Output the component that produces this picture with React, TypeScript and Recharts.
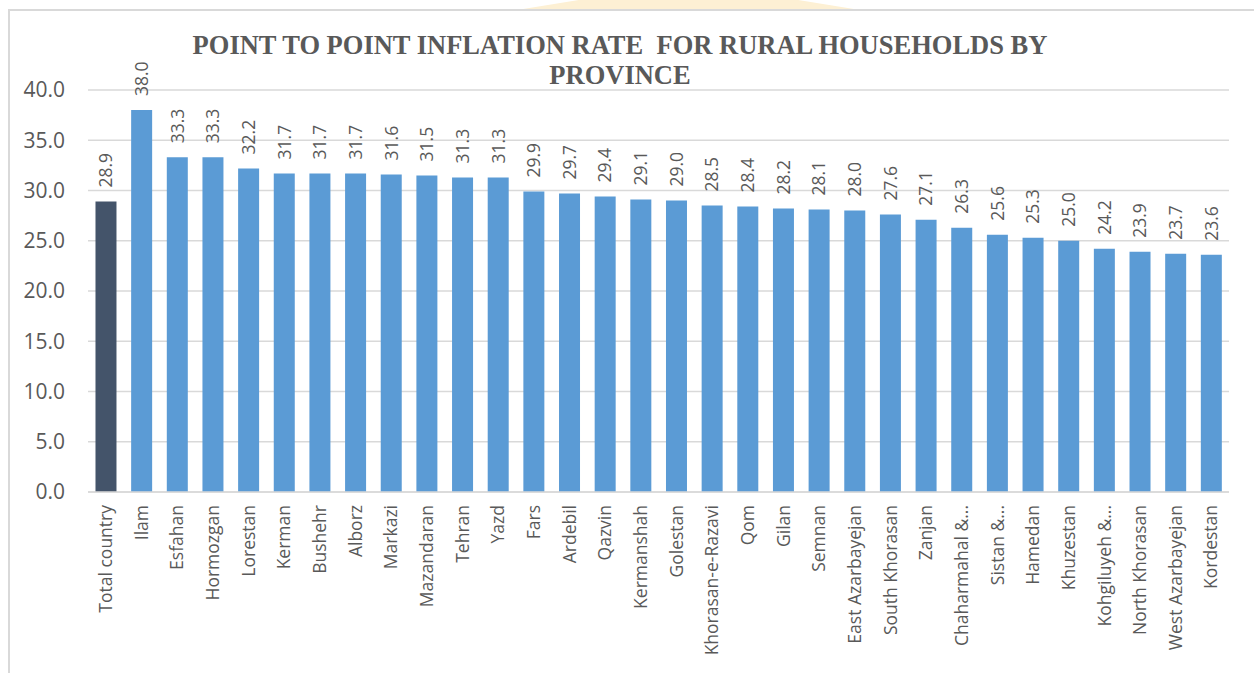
// Point to point inflation rate for rural households, by province (Recharts bar chart)
import { BarChart, Bar, XAxis, YAxis, CartesianGrid, Cell, LabelList } from 'recharts';

const provinces = [
  'Total country', 'Ilam', 'Esfahan', 'Hormozgan', 'Lorestan', 'Kerman', 'Bushehr', 'Alborz',
  'Markazi', 'Mazandaran', 'Tehran', 'Yazd', 'Fars', 'Ardebil', 'Qazvin', 'Kermanshah',
  'Golestan', 'Khorasan-e-Razavi', 'Qom', 'Gilan', 'Semnan', 'East Azarbayejan', 'South Khorasan', 'Zanjan',
  'Chaharmahal &...', 'Sistan &...', 'Hamedan', 'Khuzestan', 'Kohgiluyeh &...', 'North Khorasan', 'West Azarbayejan', 'Kordestan',
];

const inflation = [
  28.9, 38.0, 33.3, 33.3, 32.2, 31.7, 31.7, 31.7,
  31.6, 31.5, 31.3, 31.3, 29.9, 29.7, 29.4, 29.1,
  29.0, 28.5, 28.4, 28.2, 28.1, 28.0, 27.6, 27.1,
  26.3, 25.6, 25.3, 25.0, 24.2, 23.9, 23.7, 23.6,
];

const yTicks = [0, 5, 10, 15, 20, 25, 30, 35, 40];

const chartData = provinces.map((name, i) => ({ name, value: inflation[i] }));

const TEXT = '#595959';
const GRID = '#d9d9d9';
const FONT = "'Open Sans', 'Noto Sans', sans-serif";

// x labels read bottom-to-top, ending just under the axis
const ProvinceTick = (props: any) => {
  const { x, y, payload } = props;
  return (
    <text
      transform={`translate(${x},${y}) rotate(-90)`}
      textAnchor="end"
      dy="0.36em"
      fill={TEXT}
      fontSize={17.5}
      fontFamily={FONT}
    >
      {payload.value}
    </text>
  );
};

const ValueLabel = (props: any) => {
  const { x, y, width, value } = props;
  return (
    <text
      transform={`translate(${x + width / 2},${y - 14}) rotate(-90)`}
      textAnchor="start"
      dy="0.36em"
      fill={TEXT}
      fontSize={17.5}
      fontFamily={FONT}
    >
      {Number(value).toFixed(1)}
    </text>
  );
};

export default function App() {
  return (
    <div style={{ position: 'absolute', left: 0, top: 0, width: 1254, height: 673, background: '#fff', overflow: 'hidden' }}>
      {/* faint watermark peeking above the frame */}
      <div
        style={{
          position: 'absolute', left: 517, top: 0, width: 343, height: 10,
          background: '#fdf0d4',
          clipPath: 'polygon(18% 0, 82% 0, 100% 100%, 0 100%)',
        }}
      />
      {/* chart frame */}
      <div
        style={{
          position: 'absolute', left: 8, top: 9, width: 1300, height: 700,
          borderLeft: `2px solid ${GRID}`, borderTop: `2px solid ${GRID}`, background: '#fff',
        }}
      />
      <div
        style={{
          position: 'absolute', left: 0, top: 30, width: 1240, textAlign: 'center',
          fontFamily: "'Liberation Serif', 'Times New Roman', serif", fontWeight: 'bold',
          fontSize: 26.5, lineHeight: '30px', color: TEXT, whiteSpace: 'pre',
        }}
      >
        {'POINT TO POINT INFLATION RATE  FOR RURAL HOUSEHOLDS BY\nPROVINCE'}
      </div>
      <div style={{ position: 'absolute', left: 0, top: 0 }}>
        <BarChart
          width={1254}
          height={673}
          data={chartData}
          margin={{ top: 90, right: 25, bottom: 0, left: 0 }}
          barCategoryGap="21%"
        >
          <CartesianGrid vertical={false} stroke={GRID} strokeWidth={1.3} />
          <XAxis
            dataKey="name"
            interval={0}
            tickLine={false}
            axisLine={{ stroke: GRID, strokeWidth: 1.5 }}
            tickSize={0}
            tickMargin={13}
            tick={<ProvinceTick />}
            height={181}
          />
          <YAxis
            domain={[0, 40]}
            ticks={yTicks}
            width={88}
            axisLine={false}
            tickLine={false}
            tickSize={0}
            tickMargin={23}
            tickFormatter={(v: number) => v.toFixed(1)}
            tick={{ fill: TEXT, fontSize: 21, fontFamily: FONT }}
          />
          <Bar dataKey="value" fill="#5b9bd5" isAnimationActive={false}>
            {chartData.map((d, i) => (
              <Cell key={d.name} fill={i === 0 ? '#44546a' : '#5b9bd5'} />
            ))}
            <LabelList dataKey="value" content={<ValueLabel />} />
          </Bar>
        </BarChart>
      </div>
    </div>
  );
}
